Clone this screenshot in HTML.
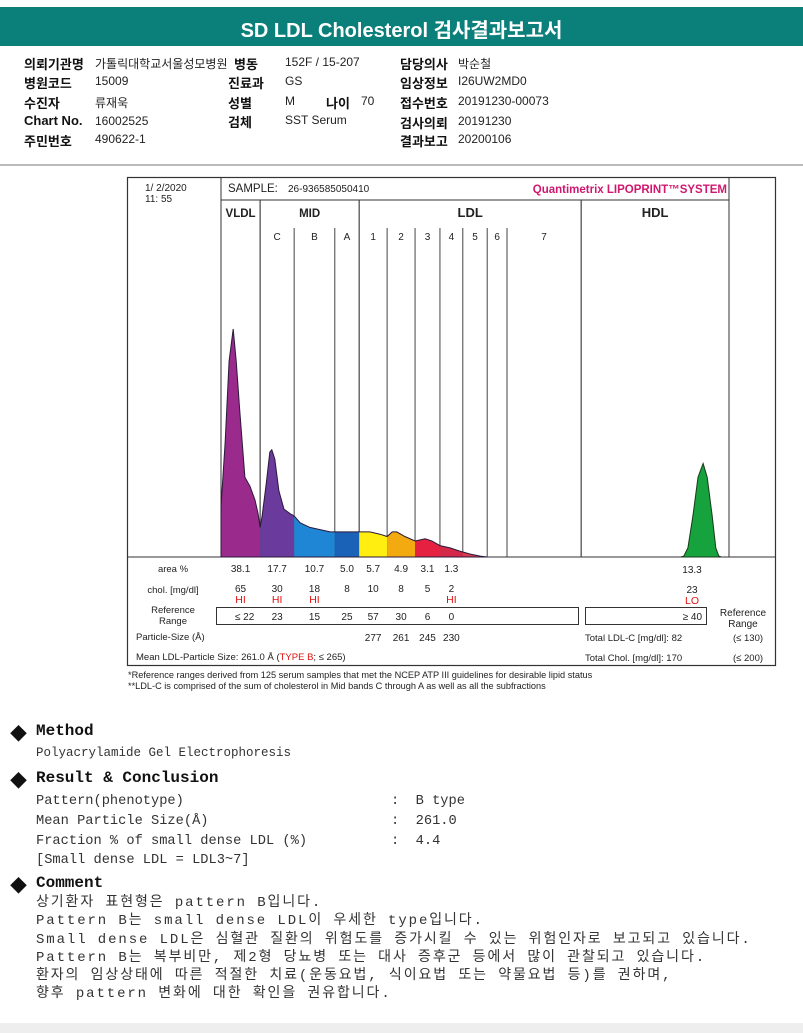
<!DOCTYPE html>
<html><head><meta charset="utf-8">
<style>
*{margin:0;padding:0;box-sizing:border-box}
body{width:803px;height:1033px;background:#fff;position:relative;overflow:hidden;font-family:"Liberation Sans","Noto Sans CJK KR",sans-serif;color:#111}
.a{position:absolute;white-space:nowrap}
.lb{font-weight:bold;font-size:13px}
.v{font-size:12px;color:#222}
.mono{font-family:"Liberation Mono","Noto Sans CJK KR",monospace;color:#333}
.h{font-family:"Liberation Mono","Noto Sans CJK KR",monospace;font-size:16px;font-weight:bold;color:#111}
.d{font-size:17px}
</style></head><body>
<div class="a" style="left:0;top:7px;width:803px;height:39px;background:#0b7f7a"></div>
<div class="a" style="left:0;top:14px;width:803px;text-align:center;color:#fff;font-size:20px;font-weight:bold">SD LDL Cholesterol 검사결과보고서</div>

<div>
<div class="a lb" style="left:24px;top:54px">의뢰기관명</div><div class="a v" style="left:95px;top:55px">가톨릭대학교서울성모병원</div>
<div class="a lb" style="left:234px;top:54px">병동</div><div class="a v" style="left:285px;top:55px">152F / 15-207</div>
<div class="a lb" style="left:400px;top:54px">담당의사</div><div class="a v" style="left:458px;top:55px">박순철</div>
<div class="a lb" style="left:24px;top:73px">병원코드</div><div class="a v" style="left:95px;top:74px">15009</div>
<div class="a lb" style="left:228px;top:73px">진료과</div><div class="a v" style="left:285px;top:74px">GS</div>
<div class="a lb" style="left:400px;top:73px">임상정보</div><div class="a v" style="left:458px;top:74px">I26UW2MD0</div>
<div class="a lb" style="left:24px;top:93px">수진자</div><div class="a v" style="left:95px;top:94px">류재욱</div>
<div class="a lb" style="left:228px;top:93px">성별</div><div class="a v" style="left:285px;top:94px">M</div>
<div class="a lb" style="left:326px;top:93px">나이</div><div class="a v" style="left:361px;top:94px">70</div>
<div class="a lb" style="left:400px;top:93px">접수번호</div><div class="a v" style="left:458px;top:94px">20191230-00073</div>
<div class="a lb" style="left:24px;top:113px">Chart No.</div><div class="a v" style="left:95px;top:114px">16002525</div>
<div class="a lb" style="left:228px;top:112px">검체</div><div class="a v" style="left:285px;top:113px">SST Serum</div>
<div class="a lb" style="left:400px;top:113px">검사의뢰</div><div class="a v" style="left:458px;top:114px">20191230</div>
<div class="a lb" style="left:24px;top:131px">주민번호</div><div class="a v" style="left:95px;top:132px">490622-1</div>
<div class="a lb" style="left:400px;top:131px">결과보고</div><div class="a v" style="left:458px;top:132px">20200106</div>
</div>
<div class="a" style="left:0;top:164px;width:803px;height:2px;background:#bbb"></div>

<svg class="a" id="chart" style="left:0;top:0" width="803" height="700" font-family="Liberation Sans, sans-serif"></svg>

<div>
<div class="a d" style="left:10px;top:720px">◆</div><div class="a h" style="left:36px;top:722px">Method</div>
<div class="a mono" style="left:36px;top:746px;font-size:12.5px">Polyacrylamide Gel Electrophoresis</div>
</div>
<div>
<div class="a d" style="left:10px;top:767px">◆</div><div class="a h" style="left:36px;top:769px">Result &amp; Conclusion</div>
<div class="a mono" style="left:36px;top:794px;font-size:13.7px">Pattern(phenotype)</div>
<div class="a mono" style="left:36px;top:814px;font-size:13.7px">Mean Particle Size(Å)</div>
<div class="a mono" style="left:36px;top:834px;font-size:13.7px">Fraction % of small dense LDL (%)</div>
<div class="a mono" style="left:36px;top:853px;font-size:13.7px">[Small dense LDL = LDL3~7]</div>
<div class="a mono" style="left:391px;top:794px;font-size:13.7px">:&nbsp; B type</div>
<div class="a mono" style="left:391px;top:814px;font-size:13.7px">:&nbsp; 261.0</div>
<div class="a mono" style="left:391px;top:834px;font-size:13.7px">:&nbsp; 4.4</div>
</div>
<div>
<div class="a d" style="left:10px;top:872px">◆</div><div class="a h" style="left:36px;top:874px">Comment</div>
<div class="a mono" style="left:36px;top:894px;font-size:14px;line-height:18.3px;letter-spacing:1.9px">상기환자 표현형은 pattern B입니다.<br>Pattern B는 small dense LDL이 우세한 type입니다.<br>Small dense LDL은 심혈관 질환의 위험도를 증가시킬 수 있는 위험인자로 보고되고 있습니다.<br>Pattern B는 복부비만, 제2형 당뇨병 또는 대사 증후군 등에서 많이 관찰되고 있습니다.<br>환자의 임상상태에 따른 적절한 치료(운동요법, 식이요법 또는 약물요법 등)를 권하며,<br>향후 pattern 변화에 대한 확인을 권유합니다.</div>
</div>
<div class="a" style="left:0;top:1023px;width:803px;height:10px;background:#eee"></div>

<script>
// migration position (relative Rf 0..1) and density (% of max peak)
const mobility = [0,0,.008,.016,.024,.030,.037,.047,.057,.067,.073,.077,.081,.089,.096,.100,.106,.114,.124,.136,.144,.156,.175,.195,.215,.234,.254,.274,.293,.313,.327,.337,.346,.362,.382,.402,.415,.431,.451,.470,.490,.510,.524];
const density = [0,22,50,86,100,86,64,35,31,25,19,13,18,32,46,47,43,29,21,19,18,15,13,12,11,11,11,11,11,10,9,11,11,9,7,8,7,5,4,2.6,1.3,0.4,0];
const hdlMobility = [.905,.911,.919,.929,.939,.949,.957,.967,.974,.980,.985];
const hdlDensity = [0,0.4,4,18,35,41,35,18,4,0.4,0];
const bandNames = ["VLDL","C","B","A","1","2","3","4","5","6","7","HDL"];
const bandEdges = [0,.077,.144,.224,.272,.327,.382,.431,.476,.524,.563,.709,1];
const bandColors = ["#9a2a8c","#6a3a9c","#1f86d6","#1a62b8","#ffee10","#f2aa10","#e62040","#d42848","#d83a50","#d83a50","#d83a50","#16a23c"];
const areaPct = ["38.1","17.7","10.7","5.0","5.7","4.9","3.1","1.3"];
const cholValues = ["65","30","18","8","10","8","5","2"];
const cholFlags = ["HI","HI","HI","","","","","HI"];
const refRange = ["22","23","15","25","57","30","6","0"];
const particleSizes = ["","","","","277","261","245","230"];
const hdlArea = "13.3", hdlChol = "23", hdlFlag = "LO", hdlRef = "40";

const X0=221, X1=729, Y0=557, H=228;
const xs = r => X0 + r*(X1-X0);
const ys = v => Y0 - v/100*H;
const svg = document.getElementById('chart');
const NS="http://www.w3.org/2000/svg";
function el(t,a,txt){const e=document.createElementNS(NS,t);for(const k in a)e.setAttribute(k,a[k]);if(txt!==undefined)e.textContent=txt;svg.appendChild(e);return e;}
function tx(x,y,s,o){return el('text',Object.assign({x:x,y:y,'font-size':10,fill:'#222','text-anchor':'middle'},o||{}),s);}

let e;
e=el('rect',{x:127.5,y:177.5,width:648,height:488,fill:'none',stroke:'#333','stroke-width':1.2});


el('line',{x1:221,y1:177,x2:221,y2:557,stroke:'#333'});
el('line',{x1:729,y1:177,x2:729,y2:557,stroke:'#333'});
el('line',{x1:221,y1:200,x2:729,y2:200,stroke:'#333'});
el('line',{x1:127,y1:557,x2:775,y2:557,stroke:'#333'});
tx(145,191,"1/  2/2020",{'text-anchor':'start'});
tx(145,202,"11: 55",{'text-anchor':'start'});
tx(228,192,"SAMPLE:",{'text-anchor':'start','font-size':11.5});
tx(288,192,"26-936585050410",{'text-anchor':'start','font-size':10});
e=tx(727,193,"Quantimetrix LIPOPRINT™SYSTEM",{'text-anchor':'end','font-size':11.5,'font-weight':'bold',fill:'#d01870'});



const major=[1,4,11];
for(let i=1;i<bandEdges.length-1;i++){
  const isMaj = major.includes(i);
  e=el('line',{x1:xs(bandEdges[i]),y1:isMaj?200:228,x2:xs(bandEdges[i]),y2:557,stroke:'#444','stroke-width':isMaj?1.2:1});
  
  
}
tx(xs((bandEdges[0]+bandEdges[1])/2),217,"VLDL",{'font-weight':'bold','font-size':11.5});
tx(xs((bandEdges[1]+bandEdges[4])/2),217,"MID",{'font-weight':'bold','font-size':11.5});
tx(xs((bandEdges[4]+bandEdges[11])/2),217,"LDL",{'font-weight':'bold','font-size':13});
tx(xs((bandEdges[11]+bandEdges[12])/2),217,"HDL",{'font-weight':'bold','font-size':13});
for(let i=1;i<11;i++){
  e=tx(xs((bandEdges[i]+bandEdges[i+1])/2),240,bandNames[i],{'font-size':10});
  
  
}

function pathOf(m,d){return m.map((r,i)=>(i?'L':'M')+xs(r).toFixed(1)+','+ys(d[i]).toFixed(1)).join(' ')+' Z';}
const main = pathOf(mobility,density);
const defs = el('defs',{});
for(let i=0;i<bandEdges.length-1;i++){
  const cp=document.createElementNS(NS,'clipPath');cp.setAttribute('id','cb'+i);
  const r=document.createElementNS(NS,'rect');
  r.setAttribute('x',xs(bandEdges[i]));r.setAttribute('y',170);r.setAttribute('width',xs(bandEdges[i+1])-xs(bandEdges[i]));r.setAttribute('height',400);
  cp.appendChild(r);defs.appendChild(cp);
  e=el('path',{d:i==11?pathOf(hdlMobility,hdlDensity):main,fill:bandColors[i],'clip-path':'url(#cb'+i+')'});
  
  
}
e=el('path',{d:main,fill:'none',stroke:'#2a1a3a','stroke-width':1});


e=el('path',{d:pathOf(hdlMobility,hdlDensity),fill:'none',stroke:'#1a3a1a','stroke-width':1});



const colX = i => xs((bandEdges[i]+bandEdges[i+1])/2);
const hdlX = 692;
tx(173,572,"area %",{'font-size':9.5});
tx(173,593,"chol. [mg/dl]",{'font-size':9.5});
tx(173,613,"Reference",{'font-size':9.5});tx(173,624,"Range",{'font-size':9.5});
e=el('rect',{x:216.5,y:607.5,width:362,height:17,fill:'none',stroke:'#333'});


el('rect',{x:585.5,y:607.5,width:121,height:17,fill:'none',stroke:'#333'});
for(let i=0;i<areaPct.length;i++){
  const x=colX(i);
  e=tx(x,572,areaPct[i]);
  
  
  tx(x,592,cholValues[i]);
  if(cholFlags[i]) tx(x,603,cholFlags[i],{fill:'#e01010','font-size':10.5});
  tx(i==0?x+4:x,620,(i==0?"≤ ":"")+refRange[i]);
  if(particleSizes[i]) tx(x,641,particleSizes[i]);
}
tx(hdlX,573,hdlArea);tx(hdlX,593,hdlChol);tx(hdlX,604,hdlFlag,{fill:'#e01010','font-size':10.5});
tx(702,620,"≥ "+hdlRef,{'text-anchor':'end'});
tx(743,616,"Reference");tx(743,627,"Range");
tx(136,640,"Particle-Size (Å)",{'text-anchor':'start','font-size':9.5});
const mt=tx(136,660,"",{'text-anchor':'start','font-size':9.5});
mt.innerHTML='Mean LDL-Particle Size:   261.0 Å  (<tspan fill="#e01010">TYPE B</tspan>; ≤ 265)';
tx(585,641,"Total LDL-C [mg/dl]:  82",{'text-anchor':'start','font-size':9.5});
tx(585,661,"Total Chol. [mg/dl]:   170",{'text-anchor':'start','font-size':9.5});
tx(748,641,"(≤ 130)",{'font-size':9.5});tx(748,661,"(≤ 200)",{'font-size':9.5});
tx(128,678,"*Reference ranges derived from 125 serum samples that met the NCEP ATP III guidelines for desirable lipid status",{'text-anchor':'start','font-size':9.2});
tx(128,689,"**LDL-C is comprised of the sum of cholesterol in Mid bands C through A as well as all the subfractions",{'text-anchor':'start','font-size':9.2});
</script>
</body></html>
